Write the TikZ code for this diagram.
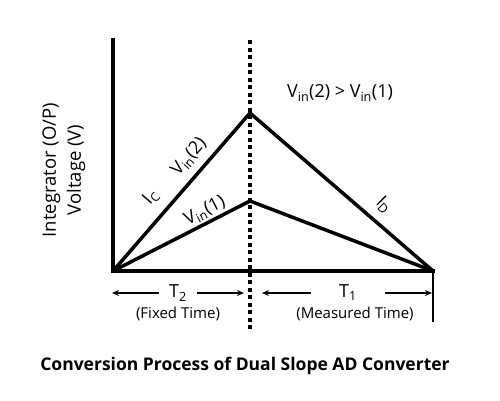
\documentclass[tikz,border=0pt]{standalone}
\usepackage{fontspec}
\setmainfont{Open Sans}
\usetikzlibrary{arrows.meta,positioning}

\tikzset{
  axis/.style   = {line width=4pt, line cap=rect},
  slope/.style  = {line width=3.5pt, line join=miter},
  dots/.style   = {line width=4pt, dash pattern=on 4pt off 3.5pt},
  tick/.style   = {line width=1.6pt},
  span/.style   = {->, line width=1.4pt},
  lbl/.style    = {font=\fontsize{18}{22}\selectfont, inner sep=0.5pt},
  note/.style   = {font=\fontsize{15}{18}\selectfont, inner sep=1pt},
  tname/.style  = {lbl, inner ysep=1pt}
}

\begin{document}
\begin{tikzpicture}[x=1pt, y=-1pt, >={Stealth[length=7pt, width=6pt]}]
\useasboundingbox (0,0) rectangle (500,400);

% corners of the graph
\coordinate (o)    at (113,271);
\coordinate (ytop) at (113,40);
\coordinate (e)    at (433,271);
\coordinate (etick) at (433,322);
\coordinate (p2)   at (250,113);
\coordinate (p1)   at (250,201);
\coordinate (dtop) at (250,40);
\coordinate (dbot) at (250,332);

% axes, switch-over line and the two ramps
\draw[dots] (dtop) -- (dbot);
\draw[axis] (ytop) -- (o) -- (e);
\draw[tick] (e) -- (etick);
\draw[slope] (o) -- (p2) -- (e);
\draw[slope] (o) -- (p1) -- (e);

% labels on the ramps
\node[lbl, rotate=49] (vin2) at (189,157) {V\textsubscript{in}(2)};
\node[lbl, rotate=49] (ic)   at (151,197) {I\textsubscript{C}};
\node[lbl, rotate=27] (vin1) at (205,211) {V\textsubscript{in}(1)};
\node[lbl, rotate=-45] (id)  at (384,205) {I\textsubscript{D}};
\node[lbl] (cmp) at (340,93) {V\textsubscript{in}(2) > V\textsubscript{in}(1)};

% y axis title
\node[lbl, rotate=90, align=center, font=\fontsize{18.5}{25}\selectfont] (ylab) at (64,170)
  {Integrator (O/P)\\Voltage (V)};

% time spans under the axis
\node[tname, inner xsep=10pt] (t2) at (178,293) {T\textsubscript{2}};
\node[tname, inner xsep=28pt] (t1) at (348,293) {T\textsubscript{1}};
\coordinate (t2l) at (112,293);
\coordinate (t2r) at (244,293);
\coordinate (t1l) at (262,293);
\coordinate (t1r) at (432,293);
\draw[span] (t2.west) -- (t2l);
\draw[span] (t2.east) -- (t2r);
\draw[span] (t1.west) -- (t1l);
\draw[span] (t1.east) -- (t1r);
\node[note] (fixed) at (178,314) {(Fixed Time)};
\node[note] (meas)  at (355,314) {(Measured Time)};

% caption
\node[font=\fontsize{17.5}{21}\selectfont\bfseries] (title) at (245,366)
  {Conversion Process of Dual Slope AD Converter};
\end{tikzpicture}
\end{document}
